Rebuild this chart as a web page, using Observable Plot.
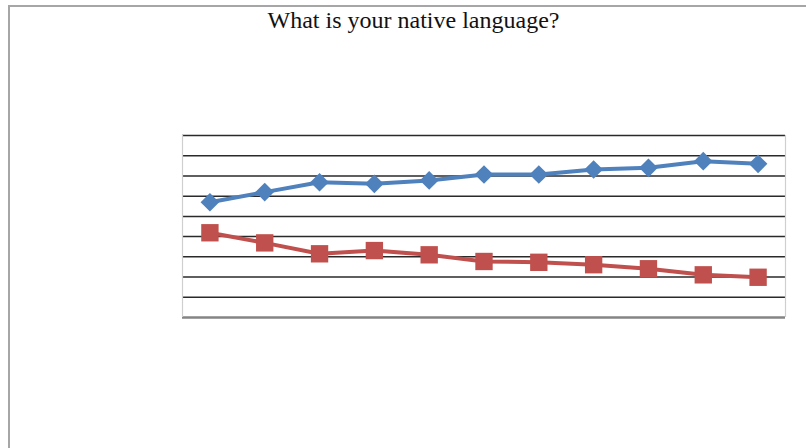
<!DOCTYPE html>
<html>
<head>
<meta charset="utf-8">
<script src="https://cdn.jsdelivr.net/npm/d3@7"></script>
<script src="https://cdn.jsdelivr.net/npm/@observablehq/plot@0.6"></script>
<style>
  html, body { margin: 0; padding: 0; background: #fff; }
  #wrap { position: relative; width: 806px; height: 448px; overflow: hidden; }
  #frame { position: absolute; left: 8px; top: 5px; width: 810px; height: 460px;
           border-left: 2px solid #a6a6a6; border-top: 2px solid #a6a6a6; box-sizing: border-box; }
  #title { position: absolute; left: 0; width: 827px; top: 6px; text-align: center; line-height: 28px;
           font-family: "Liberation Serif", "Times New Roman", serif; font-size: 24px; color: #111; }
  #chart { position: absolute; left: 0; top: 0; }
</style>
</head>
<body>
<div id="wrap">
  <div id="frame"></div>
  <div id="chart"></div>
  <div id="title">What is your native language?</div>
</div>
<script>
const categories = ["1","2","3","4","5","6","7","8","9","10","11"];
const seriesA = [57.0, 62.0, 66.9, 66.1, 67.8, 70.7, 70.7, 73.2, 74.0, 77.3, 76.0];
const seriesB = [41.9, 36.9, 31.5, 33.1, 31.0, 27.7, 27.3, 26.1, 24.1, 21.1, 19.9];
const yTicks = [0, 10, 20, 30, 40, 50, 60, 70, 80, 90];

const dataA = categories.map((c, i) => ({c, v: seriesA[i]}));
const dataB = categories.map((c, i) => ({c, v: seriesB[i]}));

const plotW = 806 - 182 - 21;
const half = plotW / categories.length / 2;

const plot = Plot.plot({
  width: 806,
  height: 448,
  marginLeft: 182,
  marginRight: 21,
  marginTop: 135,
  marginBottom: 131,
  x: {type: "point", domain: categories, padding: 0.5, round: false, axis: null},
  y: {domain: [0, 90], axis: null},
  style: {background: "transparent", overflow: "visible"},
  marks: [
    Plot.ruleY(yTicks.slice(1), {stroke: "#2a2a2a", strokeWidth: 1.5}),
    Plot.ruleY([0], {stroke: "#858585", strokeWidth: 2.4}),
    Plot.ruleX([categories[0]], {stroke: "#cfcfcf", strokeWidth: 1.2, y1: 0, y2: 90, dx: -half}),
    Plot.ruleX([categories[categories.length - 1]], {stroke: "#cfcfcf", strokeWidth: 1.2, y1: 0, y2: 90, dx: half}),
    Plot.line(dataB, {x: "c", y: "v", stroke: "#C0504D", strokeWidth: 4}),
    Plot.dot(dataB, {x: "c", y: "v", symbol: "square", r: 9.8, fill: "#C0504D", stroke: "none"}),
    Plot.line(dataA, {x: "c", y: "v", stroke: "#4F81BD", strokeWidth: 4}),
    Plot.dot(dataA, {x: "c", y: "v", symbol: "diamond2", r: 8.4, fill: "#4F81BD", stroke: "none"})
  ]
});
document.getElementById("chart").appendChild(plot);
</script>
</body>
</html>
